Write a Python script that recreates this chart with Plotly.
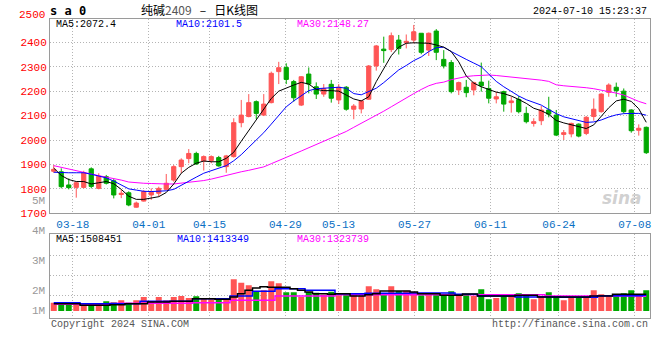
import plotly.graph_objects as go

W, H = 660, 360

# ---------------- data ----------------
open_ = [1872, 1870, 1816, 1806, 1806, 1882, 1802, 1850, 1833, 1777,
         1784, 1725, 1750, 1775, 1782, 1798, 1836, 1891, 1924, 1945,
         1914, 1916, 1928, 1891, 1932, 2071, 2096, 2157, 2102, 2153,
         2280, 2297, 2239, 2143, 2270, 2218, 2188, 2228, 2164, 2216,
         2126, 2127, 2167, 2303, 2372, 2370, 2409, 2398, 2409, 2437,
         2368, 2446, 2330, 2317, 2205, 2216, 2205, 2237, 2211, 2168,
         2198, 2153, 2166, 2109, 2068, 2079, 2123, 2102, 2023, 2025,
         2065, 2027, 2096, 2116, 2195, 2216, 2200, 2123, 2040, 2052]
high = [1898, 1884, 1843, 1830, 1874, 1888, 1864, 1857, 1840, 1795,
        1790, 1748, 1795, 1802, 1809, 1861, 1898, 1925, 1963, 1952,
        1937, 1937, 1935, 1939, 2089, 2164, 2188, 2162, 2188, 2280,
        2320, 2314, 2246, 2262, 2297, 2236, 2229, 2246, 2229, 2221,
        2147, 2164, 2307, 2389, 2423, 2440, 2430, 2432, 2471, 2437,
        2440, 2454, 2368, 2327, 2239, 2246, 2239, 2317, 2243, 2198,
        2202, 2177, 2180, 2136, 2089, 2139, 2177, 2123, 2041, 2071,
        2068, 2098, 2170, 2191, 2232, 2235, 2211, 2126, 2064, 2055]
low = [1866, 1802, 1798, 1764, 1802, 1802, 1798, 1818, 1761, 1762,
       1729, 1723, 1748, 1755, 1768, 1795, 1829, 1864, 1905, 1898,
       1875, 1905, 1891, 1866, 1928, 2052, 2093, 2085, 2098, 2150,
       2229, 2229, 2157, 2139, 2191, 2168, 2177, 2153, 2147, 2120,
       2085, 2109, 2164, 2284, 2316, 2360, 2350, 2375, 2396, 2351,
       2344, 2327, 2293, 2191, 2184, 2175, 2183, 2198, 2150, 2150,
       2116, 2112, 2109, 2068, 2055, 2061, 2093, 2016, 2000, 2011,
       2011, 2020, 2079, 2112, 2177, 2177, 2109, 2030, 2018, 1943]
close = [1880, 1809, 1805, 1825, 1866, 1810, 1852, 1823, 1775, 1782,
         1734, 1742, 1789, 1786, 1802, 1823, 1891, 1918, 1945, 1902,
         1932, 1932, 1894, 1935, 2071, 2102, 2153, 2109, 2147, 2273,
         2296, 2248, 2173, 2259, 2229, 2188, 2211, 2171, 2216, 2126,
         2139, 2160, 2303, 2385, 2366, 2427, 2375, 2404, 2443, 2359,
         2437, 2359, 2303, 2198, 2235, 2194, 2235, 2222, 2171, 2177,
         2147, 2160, 2116, 2075, 2075, 2123, 2106, 2020, 2030, 2068,
         2016, 2093, 2126, 2188, 2225, 2202, 2116, 2038, 2048, 1948]

ma5 = [1885, 1855, 1838, 1830, 1830, 1820, 1825, 1830, 1821, 1798,
       1770, 1757, 1757, 1761, 1768, 1785, 1820, 1864, 1888, 1905,
       1914, 1911, 1911, 1925, 1950, 1995, 2040, 2080, 2125, 2170,
       2200, 2214, 2225, 2236, 2229, 2207, 2202, 2202, 2200, 2184,
       2168, 2160, 2177, 2239, 2295, 2345, 2380, 2396, 2398, 2398,
       2396, 2389, 2380, 2362, 2320, 2262, 2233, 2218, 2206, 2196,
       2190, 2180, 2166, 2150, 2130, 2120, 2105, 2080, 2070, 2062,
       2052, 2047, 2062, 2095, 2132, 2160, 2167, 2158, 2128, 2072.4]
ma10 = [1868, 1866, 1866, 1866, 1866, 1860, 1852, 1845, 1832, 1815,
        1800, 1795, 1790, 1789, 1789, 1792, 1798, 1815, 1834, 1848,
        1864, 1875, 1886, 1895, 1915, 1940, 1970, 2000, 2030, 2065,
        2100, 2136, 2160, 2180, 2202, 2210, 2213, 2216, 2216, 2212,
        2190, 2185, 2198, 2212, 2235, 2260, 2287, 2305, 2325, 2340,
        2362, 2378, 2380, 2362, 2345, 2330, 2315, 2300, 2270, 2240,
        2218, 2198, 2180, 2165, 2153, 2143, 2125, 2108, 2095, 2088,
        2080, 2072, 2074, 2082, 2094, 2103, 2108, 2109, 2109, 2101.5]
ma30 = [1895, 1888, 1880, 1872, 1866, 1860, 1854, 1848, 1843, 1836,
        1828, 1824, 1823, 1822, 1820, 1820, 1820, 1823, 1828, 1831,
        1834, 1840, 1848, 1857, 1864, 1870, 1876, 1882, 1890, 1903,
        1917, 1930, 1942, 1955, 1968, 1980, 1995, 2008, 2020, 2035,
        2052, 2068, 2085, 2100, 2118, 2136, 2155, 2172, 2190, 2207,
        2222, 2232, 2237, 2247, 2255, 2260, 2263, 2265, 2266, 2264,
        2261, 2259, 2257, 2252, 2248, 2245, 2240, 2226, 2222, 2220,
        2218, 2214, 2210, 2205, 2200, 2192, 2184, 2170, 2158, 2148.27]

# volume, millions of lots
volume = [0.75, 0.75, 0.60, 0.66, 0.66, 0.60, 0.51, 0.87, 0.78, 0.96,
          0.75, 0.96, 1.26, 0.87, 1.26, 0.96, 1.26, 1.35, 1.17, 1.32,
          1.11, 1.05, 1.11, 1.05, 2.85, 2.55, 2.31, 1.77, 1.86, 2.67,
          2.49, 1.68, 1.68, 1.26, 1.71, 1.65, 1.47, 1.74, 1.41, 1.50,
          1.41, 1.35, 2.22, 1.95, 1.50, 2.22, 1.80, 1.83, 1.71, 1.41,
          1.56, 1.50, 1.41, 1.77, 1.41, 1.50, 1.35, 1.95, 1.05, 1.17,
          1.35, 1.35, 1.59, 1.50, 1.05, 1.35, 1.68, 1.35, 0.96, 1.17,
          1.17, 1.35, 1.86, 1.50, 1.41, 1.35, 1.59, 1.86, 1.41, 1.86]
vol_ma5 = [0.66, 0.66, 0.66, 0.66, 0.51, 0.51, 0.51, 0.51, 0.57, 0.57,
           0.66, 0.66, 0.66, 0.81, 0.81, 0.81, 0.87, 0.87, 0.87, 1.11,
           1.11, 1.11, 1.05, 1.05, 1.26, 1.56, 1.86, 2.07, 2.19, 2.13,
           2.13, 2.13, 2.01, 1.86, 1.71, 1.56, 1.56, 1.50, 1.56, 1.56,
           1.35, 1.35, 1.47, 1.56, 1.80, 1.80, 1.80, 1.80, 1.71, 1.56,
           1.56, 1.56, 1.41, 1.41, 1.41, 1.53, 1.53, 1.35, 1.35, 1.35,
           1.35, 1.35, 1.41, 1.41, 1.41, 1.26, 1.26, 1.26, 1.26, 1.26,
           1.26, 1.26, 1.35, 1.35, 1.35, 1.50, 1.50, 1.50, 1.50, 1.51]
vol_ma10 = [0.75, 0.75, 0.75, 0.75, 0.66, 0.66, 0.66, 0.66, 0.66, 0.66,
            0.66, 0.66, 0.87, 0.87, 0.87, 0.87, 0.87, 0.87, 0.87, 1.11,
            1.11, 1.11, 1.11, 1.11, 1.35, 1.35, 1.35, 1.77, 1.77, 1.77,
            2.01, 2.01, 2.01, 2.01, 1.86, 1.86, 1.86, 1.86, 1.56, 1.56,
            1.56, 1.56, 1.59, 1.59, 1.59, 1.59, 1.59, 1.59, 1.62, 1.62,
            1.62, 1.62, 1.62, 1.62, 1.50, 1.50, 1.50, 1.35, 1.35, 1.35,
            1.35, 1.35, 1.26, 1.26, 1.26, 1.26, 1.26, 1.26, 1.23, 1.23,
            1.23, 1.23, 1.23, 1.38, 1.38, 1.38, 1.38, 1.38, 1.38, 1.41]
vol_ma30 = [0.60, 0.60, 0.60, 0.60, 0.60, 0.60, 0.60, 0.60, 0.69, 0.69,
            0.69, 0.69, 0.69, 0.69, 0.69, 0.69, 0.69, 0.69, 0.69, 0.75,
            0.75, 0.75, 0.75, 0.75, 0.96, 0.96, 0.96, 0.96, 0.96, 0.96,
            1.35, 1.35, 1.35, 1.35, 1.35, 1.35, 1.35, 1.35, 1.47, 1.47,
            1.47, 1.47, 1.47, 1.47, 1.47, 1.47, 1.47, 1.47, 1.47, 1.47,
            1.47, 1.47, 1.47, 1.47, 1.47, 1.47, 1.47, 1.47, 1.47, 1.47,
            1.47, 1.47, 1.47, 1.47, 1.47, 1.47, 1.35, 1.35, 1.35, 1.35,
            1.35, 1.35, 1.35, 1.35, 1.35, 1.35, 1.35, 1.35, 1.35, 1.32]

# x tick labels: trading-day index of each labelled date
tick_day_index = [3, 13, 21, 31, 38, 48, 58, 67, 77]
tick_labels = ["03-18", "04-01", "04-15", "04-29", "05-13", "05-27", "06-11", "06-24", "07-08"]
price_ticks = [1700, 1800, 1900, 2000, 2100, 2200, 2300, 2400]
vol_axis_labels = ["4M", "3M", "2M", "1M"]

# ---------------- styling ----------------
RED = "#ff5555"
GREEN = "#00a800"
MONO = "Liberation Mono, DejaVu Sans Mono, monospace"
CJK = "Noto Sans CJK SC, Noto Sans, sans-serif"
GRID = "#b4b4b4"
BORDER = "#9a9a9a"
DOT = "1px,2px"

n = len(close)
x = list(range(n))
colors = [RED if c >= o else GREEN for o, c in zip(open_, close)]
# Sina spaces the date grid on n-1 slots
tick_pos = [d * n / (n - 1) - 0.5 for d in tick_day_index]


def px(v):
    return v / W


def py(v):
    return 1 - v / H


fig = go.Figure()
fig.add_trace(go.Candlestick(
    x=x, open=open_, high=high, low=low, close=close,
    increasing=dict(line=dict(color=RED, width=1), fillcolor=RED),
    decreasing=dict(line=dict(color=GREEN, width=1), fillcolor=GREEN),
    whiskerwidth=0, xaxis="x", yaxis="y", hoverinfo="skip", showlegend=False))
for vals, col in [(ma30, "#ff00ff"), (ma10, "#0000ff"), (ma5, "#000000")]:
    fig.add_trace(go.Scatter(x=x, y=vals, mode="lines", line=dict(color=col, width=1),
                             xaxis="x", yaxis="y", hoverinfo="skip", showlegend=False))

fig.add_trace(go.Bar(x=x, y=volume, marker=dict(color=colors, line=dict(width=0)),
                     width=0.8, xaxis="x2", yaxis="y2", hoverinfo="skip", showlegend=False))
for vals, col in [(vol_ma30, "#ff00ff"), (vol_ma10, "#0000ff"), (vol_ma5, "#000000")]:
    fig.add_trace(go.Scatter(x=x, y=vals, mode="lines", line=dict(color=col, width=1.5, shape="hvh"),
                             xaxis="x2", yaxis="y2", hoverinfo="skip", showlegend=False))

LEFT, RIGHT = 50, 650
MAIN_TOP, MAIN_BOT = 19, 213.3
VOL_TOP, VOL_BOT = 234.3, 318.3
PX_PER_100 = 24.43
VOL_BASE = 311
PX_PER_M = 11.1

main_top_val = 1700 + (MAIN_BOT - MAIN_TOP) / PX_PER_100 * 100
vol_top = (VOL_BASE - VOL_TOP) / PX_PER_M
vol_bot = -(VOL_BOT - VOL_BASE) / PX_PER_M
vol_grid = [(VOL_BASE - g) / PX_PER_M for g in (295.7, 275.7, 255.7)]

axis_common = dict(showline=True, linecolor=BORDER, linewidth=1, mirror=True,
                   zeroline=False, gridcolor=GRID, griddash=DOT, gridwidth=1,
                   automargin=False, fixedrange=True)

fig.update_layout(
    width=W, height=H, template="none",
    margin=dict(l=0, r=0, t=0, b=0, pad=0),
    paper_bgcolor="white", plot_bgcolor="white",
    boxgap=0.2, bargap=0.2,
    showlegend=False,
    xaxis=dict(domain=[px(LEFT), px(RIGHT)], range=[-0.5, n - 0.5], anchor="y",
               tickvals=tick_pos, ticktext=tick_labels, showgrid=True, ticks="",
               tickfont=dict(family=MONO, size=11, color="#0a6fc4"),
               rangeslider=dict(visible=False), **axis_common),
    yaxis=dict(domain=[py(MAIN_BOT), py(MAIN_TOP)], range=[1700, main_top_val], anchor="x",
               tickvals=price_ticks, ticktext=[str(v) for v in price_ticks], showgrid=True,
               ticks="", tickfont=dict(family=MONO, size=11, color="#ff0000"), **axis_common),
    xaxis2=dict(domain=[px(LEFT), px(RIGHT)], range=[-0.5, n - 0.5], anchor="y2",
                tickvals=tick_pos, showticklabels=False, showgrid=True, ticks="", **axis_common),
    yaxis2=dict(domain=[py(VOL_BOT), py(VOL_TOP)], range=[vol_bot, vol_top], anchor="x2",
                tickvals=vol_grid, showticklabels=False, showgrid=True, ticks="", **axis_common),
)

ann = []


def text(t, x0, y0, color="#000", size=10, family=MONO, xanchor="left", bold=False, **kw):
    if bold:
        t = "<b>" + t + "</b>"
    ann.append(dict(text=t, x=px(x0), y=py(y0), xref="paper", yref="paper", showarrow=False,
                    xanchor=xanchor, yanchor="middle", font=dict(family=family, size=size, color=color), **kw))


NB = "\u00a0"
text("s a 0", 48, 11, size=12, bold=True, family="DejaVu Sans Mono, monospace")
text("纯碱<span style='color:#555'>2409</span>" + NB * 3 + "–" + NB * 3 + "日K线图",
     139, 9.5, size=12, family=CJK)
text("2024-07-10 15:23:37", 649, 11.5, size=10, xanchor="right")
text("2500", 47, 15, color="#ff0000", size=11, xanchor="right")
text("MA5:2072.4", 54, 25, size=10)
text("MA10:2101.5", 174, 25, size=10, color="#0000ff")
text("MA30:2148.27", 295, 25, size=10, color="#ff00ff")
text("5M", 47, 201, color="#999", size=11, xanchor="right")
for lab, yy in zip(vol_axis_labels, [231, 261, 291, 311]):
    text(lab, 47, yy, color="#999", size=11, xanchor="right")
text("MA5:1508451", 54, 239, size=10)
text("MA10:1413349", 175, 239, size=10, color="#0000ff")
text("MA30:1323739", 295, 239, size=10, color="#ff00ff")
text("Copyright 2024 SINA.COM", 49, 324, color="#555", size=10)
text("http://finance.sina.com.cn", 650, 324, color="#555", size=10, xanchor="right")
text("<i>sina</i>", 622, 198, color="rgba(150,150,150,0.45)", size=17,
     family="DejaVu Sans, sans-serif", xanchor="center", bold=True)

fig.update_layout(annotations=ann)
fig.write_html("out.html", config={"displayModeBar": False, "staticPlot": True},
               post_script="document.body.style.margin='0px';document.body.style.padding='0px';")
